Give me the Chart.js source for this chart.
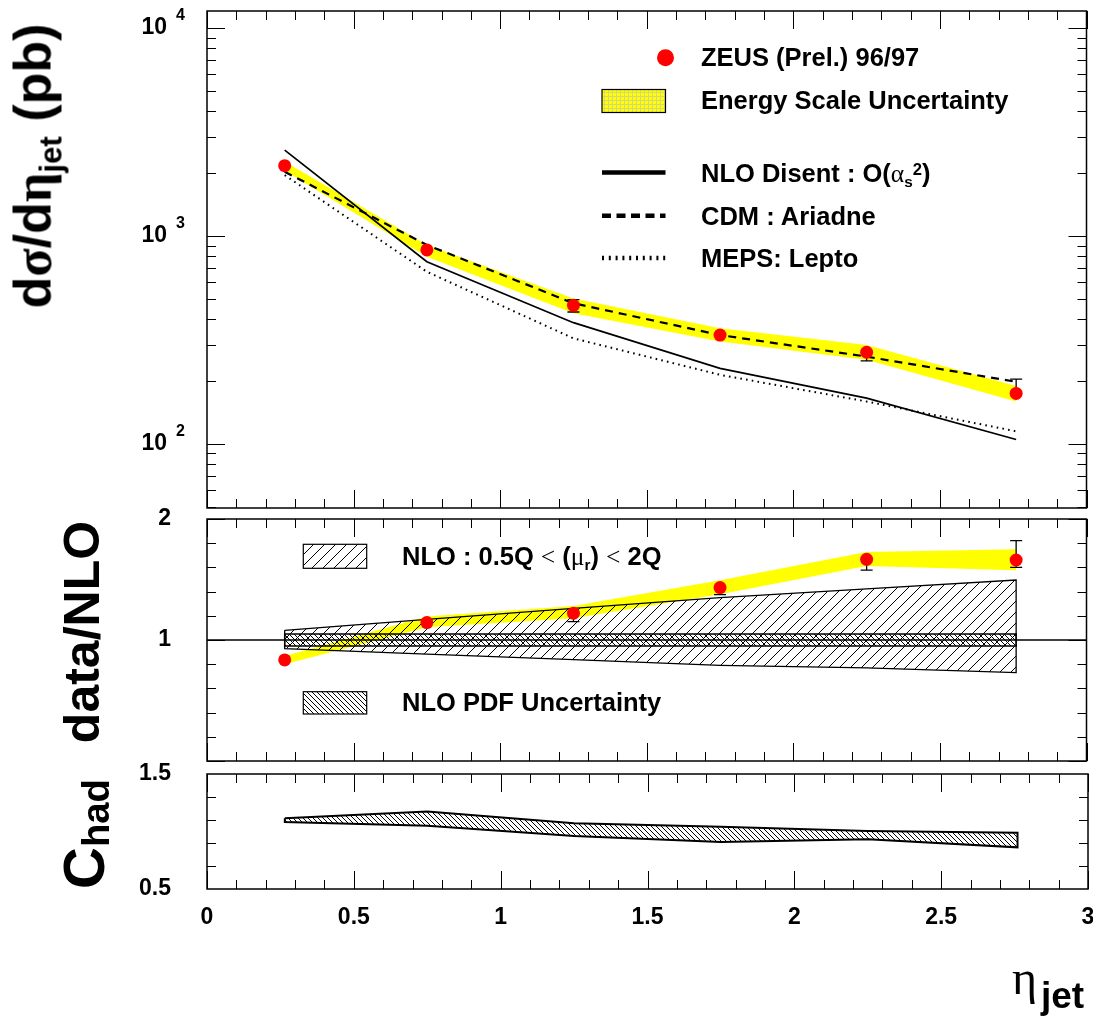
<!DOCTYPE html>
<html>
<head>
<meta charset="utf-8">
<title>ZEUS dsigma/deta_jet</title>
<script src="https://cdn.jsdelivr.net/npm/chart.js@4.4.1/dist/chart.umd.min.js"></script>
<style>
  html, body { margin: 0; padding: 0; background: #fff; }
  #page { position: relative; width: 1093px; height: 1019px; overflow: hidden;
          font-family: 'Liberation Sans', Arial, sans-serif; font-weight: bold; color: #000; }
  #page canvas { position: absolute; left: 0; top: 0; }
  .t { position: absolute; white-space: nowrap; line-height: 1; }
  .rot { transform: translate(-50%, -50%) rotate(-90deg); }
  .g { font-family: 'Liberation Serif', serif; }
  .n { font-weight: normal; }
  .sub { position: relative; font-size: 0.6em; top: 0.35em; }
  .sup { position: relative; font-size: 0.65em; top: -0.45em; }
  .leg { font-size: 25.5px; }
</style>
</head>
<body>
<div id="page">
  <canvas id="cTop" width="1093" height="1019"></canvas>
  <canvas id="cMid" width="1093" height="1019"></canvas>
  <canvas id="cBot" width="1093" height="1019"></canvas>

  <!-- axis titles -->
  <div class="t rot" style="left:33px;top:166px;font-size:52px">d<span class="g">σ</span>/d<span class="g">η</span><span class="sub">jet</span> (pb)</div>
  <div class="t rot" style="left:82px;top:632px;font-size:50px">data/NLO</div>
  <div class="t rot" style="left:84px;top:834px;font-size:58px">C<span class="sub" style="top:0.12em;font-size:0.66em">had</span></div>
  <div class="t g n" style="left:1012px;top:954px;font-size:48px">η</div>
  <div class="t" style="left:1041px;top:977px;font-size:37px">jet</div>

  <!-- legend text -->
  <div class="t leg" style="left:701px;top:45px">ZEUS (Prel.) 96/97</div>
  <div class="t leg" style="left:701px;top:88px">Energy Scale Uncertainty</div>
  <div class="t leg" style="left:701px;top:161px">NLO Disent : O(<span class="g n">α</span><span class="sub">s</span><span class="sup">2</span>)</div>
  <div class="t leg" style="left:701px;top:204px">CDM : Ariadne</div>
  <div class="t leg" style="left:701px;top:246px">MEPS: Lepto</div>
  <div class="t leg" style="left:402px;top:544px">NLO : 0.5Q <span class="g n">&lt;</span> (<span class="g n">μ</span><span class="sub">r</span>) <span class="g n">&lt;</span> 2Q</div>
  <div class="t leg" style="left:402px;top:690px">NLO PDF Uncertainty</div>
</div>

<script>
// ---- values ----
const etaJet = [0.265, 0.75, 1.25, 1.75, 2.25, 2.76];

// top panel: dsigma/deta_jet (pb)
const zeusXsec = [2178, 857, 464, 334, 276, 175];
const zeusErrUp = [50, 20, 30, 12, 12, 30];
const zeusErrDn = [50, 20, 33, 12, 25, 6];
const escaleHi = [2280, 906, 501, 360, 299, 190];
const escaleLo = [2060, 794, 425, 311, 254, 160];
const nloDisent = [2588, 752, 383, 231, 166, 105];
const cdmAriadne = [2037, 906, 475, 334, 263, 199];
const mepsLepto = [1963, 673, 322, 215, 160, 115];

// middle panel: data/NLO
const ratio = [0.835, 1.144, 1.221, 1.433, 1.667, 1.661];
const ratioErrUp = [0.03, 0.03, 0.03, 0.03, 0.03, 0.16];
const ratioErrDn = [0.03, 0.03, 0.069, 0.058, 0.089, 0.06];
const ratioEscaleHi = [0.868, 1.195, 1.281, 1.494, 1.727, 1.75];
const ratioEscaleLo = [0.800, 1.105, 1.180, 1.378, 1.612, 1.576];
const scaleHi = [1.08, 1.17, 1.262, 1.35, 1.422, 1.496];
const scaleLo = [0.929, 0.883, 0.837, 0.791, 0.769, 0.731];
const pdfHi = [1.05, 1.05, 1.05, 1.05, 1.05, 1.05];
const pdfLo = [0.95, 0.95, 0.95, 0.95, 0.95, 0.95];
const unity = [1, 1];

// bottom panel: C_had
const chadHi = [1.115, 1.173, 1.072, 1.042, 1.004, 0.99];
const chadLo = [1.083, 1.051, 0.961, 0.908, 0.932, 0.862];

// axes
const xRange = [0, 3];
const xTickLabels = ['0', '0.5', '1', '1.5', '2', '2.5', '3'];
const topRange = [49.2, 12080];
const topTickVals = [100, 1000, 10000];
const topTickExp = ['2', '3', '4'];
const midRange = [0, 2];
const midTickVals = [1, 2];
const midTickLabels = ['1', '2'];
const botRange = [0.5, 1.5];
const botTickVals = [0.5, 1.5];
const botTickLabels = ['0.5', '1.5'];

// ---- helpers ----
const pts = ys => etaJet.map((x, i) => ({x: x, y: ys[i]}));
const outline = (hi, lo) => pts(hi).concat(pts(lo).reverse(), [{x: etaJet[0], y: hi[0]}]);

function hatch(ctx, step, dir, lw) {
  const c = document.createElement('canvas');
  c.width = step; c.height = step;
  const g = c.getContext('2d');
  g.strokeStyle = '#000';
  g.lineWidth = lw;
  g.beginPath();
  if (dir > 0) {   // "/"
    g.moveTo(-1, step + 1); g.lineTo(step + 1, -1);
    g.moveTo(-2, 2); g.lineTo(2, -2);
    g.moveTo(step - 2, step + 2); g.lineTo(step + 2, step - 2);
  } else {         // "\"
    g.moveTo(-1, -1); g.lineTo(step + 1, step + 1);
    g.moveTo(step - 2, -2); g.lineTo(step + 2, 2);
    g.moveTo(-2, step - 2); g.lineTo(2, step + 2);
  }
  g.stroke();
  return ctx.createPattern(c, 'repeat');
}

function gridFill(ctx) {
  const c = document.createElement('canvas');
  c.width = 4; c.height = 4;
  const g = c.getContext('2d');
  g.fillStyle = '#ffff00'; g.fillRect(0, 0, 4, 4);
  g.fillStyle = '#d6d67a'; g.fillRect(0, 0, 4, 1); g.fillRect(0, 0, 1, 4);
  return ctx.createPattern(c, 'repeat');
}

// frame, inward ticks and tick labels (ROOT style)
const rootFrame = {
  id: 'rootFrame',
  afterDatasetsDraw(chart, args, o) {
    const {ctx, chartArea: a} = chart;
    const x = chart.scales.x, y = chart.scales.y;
    ctx.save();
    ctx.strokeStyle = '#000';
    ctx.lineWidth = 1;
    ctx.beginPath();
    for (let i = 0; i <= 30; i++) {
      const px = Math.round(x.getPixelForValue(i / 10)) + 0.5;
      const len = i % 5 ? 9 : 18;
      ctx.moveTo(px, a.bottom); ctx.lineTo(px, a.bottom - len);
      ctx.moveTo(px, a.top); ctx.lineTo(px, a.top + len);
    }
    o.yTicks.forEach(t => {
      const py = Math.round(y.getPixelForValue(t[0])) + 0.5;
      const len = t[1] ? 18 : 9;
      ctx.moveTo(a.left, py); ctx.lineTo(a.left + len, py);
      ctx.moveTo(a.right, py); ctx.lineTo(a.right - len, py);
    });
    ctx.stroke();
    ctx.lineWidth = 1.5;
    ctx.strokeRect(a.left, a.top, a.right - a.left, a.bottom - a.top);

    ctx.fillStyle = '#000';
    ctx.textBaseline = 'middle';
    o.yLabels.forEach(l => {
      const py = y.getPixelForValue(l.v);
      ctx.font = 'bold 23px "Liberation Sans", Arial, sans-serif';
      ctx.textAlign = 'right';
      ctx.fillText(l.text, a.left - (l.exp ? 40 : 36), py);
      if (l.exp) {
        ctx.font = 'bold 16px "Liberation Sans", Arial, sans-serif';
        ctx.textAlign = 'left';
        ctx.fillText(l.exp, a.left - 31, py - 12);
      }
    });
    if (o.xLabels) {
      ctx.font = 'bold 23px "Liberation Sans", Arial, sans-serif';
      ctx.textAlign = 'center';
      o.xLabels.forEach((s, i) => {
        ctx.fillText(s, x.getPixelForValue(i * 0.5), a.bottom + 29);
      });
    }
    ctx.restore();
  }
};

// statistical error bars, drawn under the markers and only where they stick out
const errorBars = {
  id: 'errorBars',
  beforeDatasetDraw(chart, args, o) {
    if (!o.up || args.index !== 0) return;
    const {ctx} = chart;
    const x = chart.scales.x, y = chart.scales.y;
    const r = o.r;
    ctx.save();
    ctx.strokeStyle = '#000';
    ctx.lineWidth = 1.3;
    ctx.beginPath();
    o.vals.forEach((v, i) => {
      const px = x.getPixelForValue(etaJet[i]);
      const pc = y.getPixelForValue(v);
      const yu = y.getPixelForValue(v + o.up[i]);
      const yd = y.getPixelForValue(v - o.dn[i]);
      if (pc - yu > r - 1) {
        ctx.moveTo(px, pc); ctx.lineTo(px, yu);
        ctx.moveTo(px - 6, yu); ctx.lineTo(px + 6, yu);
      }
      if (yd - pc > r - 1) {
        ctx.moveTo(px, pc); ctx.lineTo(px, yd);
        ctx.moveTo(px - 6, yd); ctx.lineTo(px + 6, yd);
      }
    });
    ctx.stroke();
    ctx.restore();
  }
};

// legend symbols
const keys = {
  id: 'keys',
  afterDraw(chart, args, o) {
    if (!o.items) return;
    const ctx = chart.ctx;
    ctx.save();
    o.items.forEach(k => {
      if (k.type === 'dot') {
        ctx.fillStyle = k.color;
        ctx.beginPath(); ctx.arc(k.x, k.y, k.r, 0, Math.PI * 2); ctx.fill();
      } else if (k.type === 'box') {
        ctx.fillStyle = k.fill;
        ctx.fillRect(k.x, k.y, k.w, k.h);
        ctx.strokeStyle = '#000'; ctx.lineWidth = 1.2; ctx.setLineDash([]);
        ctx.strokeRect(k.x, k.y, k.w, k.h);
      } else {
        ctx.strokeStyle = '#000'; ctx.lineWidth = k.lw; ctx.setLineDash(k.dash);
        ctx.beginPath(); ctx.moveTo(k.x, k.y); ctx.lineTo(k.x + k.w, k.y); ctx.stroke();
      }
    });
    ctx.restore();
  }
};

function opts(pad, yScale, frame, extra) {
  return {
    responsive: false,
    animation: false,
    events: [],
    layout: {padding: pad},
    scales: {
      x: {type: 'linear', min: xRange[0], max: xRange[1], display: false},
      y: yScale
    },
    plugins: Object.assign({legend: {display: false}, tooltip: {enabled: false}, rootFrame: frame}, extra)
  };
}

const none = 'rgba(0,0,0,0)';
const markR = 6.5;
const line = (data, extra) => Object.assign({data: data, pointRadius: 0, borderColor: '#000', fill: false, tension: 0}, extra);
const marks = (data) => ({data: data, showLine: false, pointRadius: markR, pointBackgroundColor: '#ff0000',
  pointBorderColor: '#ff0000', pointBorderWidth: 0, order: 0});

// ---- top panel ----
const ctxTop = document.getElementById('cTop').getContext('2d');
const logTicks = [];
for (let d = 10; d <= 10000; d *= 10) {
  for (let k = 1; k <= 9; k++) {
    const v = k * d;
    if (v >= topRange[0] && v <= topRange[1]) logTicks.push([v, k === 1]);
  }
}
new Chart(ctxTop, {
  type: 'line',
  data: {
    datasets: [
      marks(pts(zeusXsec)),
      line(pts(nloDisent), {borderWidth: 1.7, order: 1}),
      line(pts(cdmAriadne), {borderWidth: 2.2, borderDash: [8, 6], order: 1}),
      line(pts(mepsLepto), {borderWidth: 2, borderDash: [1.6, 4.2], order: 1}),
      line(pts(escaleHi), {borderColor: none, backgroundColor: '#ffff00', fill: '+1', order: 5}),
      line(pts(escaleLo), {borderColor: none, order: 5})
    ]
  },
  options: opts({left: 207, top: 11, right: 5, bottom: 511},
    {type: 'logarithmic', min: topRange[0], max: topRange[1], display: false},
    {yTicks: logTicks, yLabels: topTickVals.map((v, i) => ({v: v, text: '10', exp: topTickExp[i]}))},
    {errorBars: {vals: zeusXsec, up: zeusErrUp, dn: zeusErrDn, r: markR},
     keys: {items: [
       {type: 'dot', x: 665.5, y: 57.7, r: 8.5, color: '#ff0000'},
       {type: 'box', x: 602, y: 89.5, w: 63.5, h: 23, fill: gridFill(ctxTop)},
       {type: 'line', x: 602, y: 172.5, w: 63.5, lw: 4.5, dash: []},
       {type: 'line', x: 602, y: 215.7, w: 63.5, lw: 4.5, dash: [9, 5.5]},
       {type: 'line', x: 602, y: 258, w: 63.5, lw: 4.5, dash: [2, 4.8]}
     ]}}),
  plugins: [rootFrame, errorBars, keys]
});

// ---- middle panel ----
const ctxMid = document.getElementById('cMid').getContext('2d');
const scaleHatch = hatch(ctxMid, 11, 1, 1);
const pdfHatch = hatch(ctxMid, 5, -1, 1);
const midTicks = [];
for (let i = 0; i <= 10; i++) midTicks.push([i * 0.2, i % 5 === 0]);
new Chart(ctxMid, {
  type: 'line',
  data: {
    datasets: [
      marks(pts(ratio)),
      line([{x: xRange[0], y: unity[0]}, {x: xRange[1], y: unity[1]}], {borderWidth: 1.5, order: 1}),
      line(pts(pdfHi), {borderColor: none, backgroundColor: pdfHatch, fill: '+1', order: 2}),
      line(pts(pdfLo), {borderColor: none, order: 2}),
      line(outline(pdfHi, pdfLo), {borderWidth: 1.5, order: 2}),
      line(pts(scaleHi), {borderColor: none, backgroundColor: scaleHatch, fill: '+1', order: 3}),
      line(pts(scaleLo), {borderColor: none, order: 3}),
      line(outline(scaleHi, scaleLo), {borderWidth: 1.3, order: 3}),
      line(pts(ratioEscaleHi), {borderColor: none, backgroundColor: '#ffff00', fill: '+1', order: 4}),
      line(pts(ratioEscaleLo), {borderColor: none, order: 4})
    ]
  },
  options: opts({left: 207, top: 519, right: 5, bottom: 258},
    {type: 'linear', min: midRange[0], max: midRange[1], display: false},
    {yTicks: midTicks, yLabels: midTickVals.map((v, i) => ({v: v, text: midTickLabels[i]}))},
    {errorBars: {vals: ratio, up: ratioErrUp, dn: ratioErrDn, r: markR},
     keys: {items: [
       {type: 'box', x: 303.3, y: 544.3, w: 63.4, h: 24, fill: scaleHatch},
       {type: 'box', x: 303.3, y: 691.7, w: 63.4, h: 22.3, fill: pdfHatch}
     ]}}),
  plugins: [rootFrame, errorBars, keys]
});

// ---- bottom panel ----
const ctxBot = document.getElementById('cBot').getContext('2d');
const chadHatch = hatch(ctxBot, 5, -1, 1);
new Chart(ctxBot, {
  type: 'line',
  data: {
    datasets: [
      line(pts(chadHi), {borderColor: none, backgroundColor: chadHatch, fill: '+1', order: 2}),
      line(pts(chadLo), {borderColor: none, order: 2}),
      line(outline(chadHi, chadLo), {borderWidth: 2, order: 1})
    ]
  },
  options: opts({left: 207, top: 774, right: 5, bottom: 130},
    {type: 'linear', min: botRange[0], max: botRange[1], display: false},
    {yTicks: [[0.7, false], [0.9, false], [1.1, false], [1.3, false]],
     yLabels: botTickVals.map((v, i) => ({v: v, text: botTickLabels[i]})),
     xLabels: xTickLabels},
    {}),
  plugins: [rootFrame]
});
</script>
</body>
</html>
